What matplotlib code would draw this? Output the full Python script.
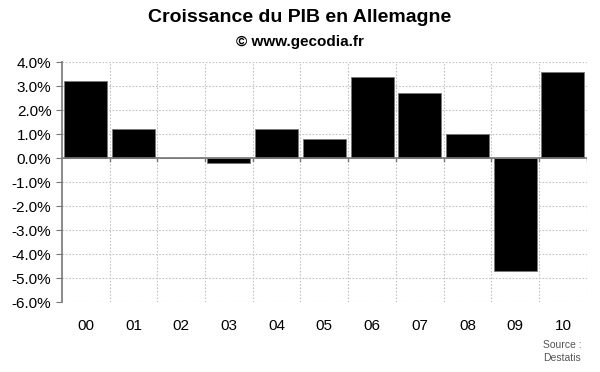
import matplotlib.pyplot as plt
import numpy as np
from matplotlib.ticker import FuncFormatter

plt.rcParams['font.family'] = ['Liberation Sans', 'DejaVu Sans']

years = ['00', '01', '02', '03', '04', '05', '06', '07', '08', '09', '10']
growth = [3.2, 1.2, 0.0, -0.2, 1.2, 0.8, 3.4, 2.7, 1.0, -4.7, 3.6]

fig = plt.figure(figsize=(6, 3.72), dpi=100)
ax = fig.add_axes([0.103, 0.188, 0.875, 0.645])

x = np.arange(len(years))
ax.bar(x, growth, width=0.9, color='black', edgecolor='#777777', linewidth=0.6, zorder=3)

ax.set_xlim(-0.5, len(years) - 0.5)
ax.set_ylim(-6, 4)
ax.set_yticks(np.arange(-6, 5, 1))
ax.yaxis.set_major_formatter(FuncFormatter(lambda v, p: f'{v:.1f}%'))

# dashed grid: horizontal at each percent, vertical at category boundaries
for yv in np.arange(-6, 5, 1):
    ax.axhline(yv, color='#c4c4c4', linestyle=(0, (1.5, 1.5)), linewidth=0.8, zorder=1)
for xv in np.arange(0.5, len(years) - 0.5 + 1, 1):
    ax.axvline(xv, color='#c4c4c4', linestyle=(0, (1.5, 1.5)), linewidth=0.8, zorder=1)

ax.axhline(0, color='#777777', linewidth=1.2, zorder=4)
for xv in np.arange(0.5, len(years), 1):
    ax.plot([xv, xv], [0, -0.12], color='#777777', linewidth=1, zorder=4)

for s in ['top', 'right', 'bottom']:
    ax.spines[s].set_visible(False)
ax.spines['left'].set_color('#777777')
ax.spines['left'].set_linewidth(1.2)
ax.tick_params(axis='y', length=4, color='#777777', labelsize=11)
ax.tick_params(axis='x', length=0, labelsize=11, pad=12)
ax.set_xticks(x)
ax.set_xticklabels(years)

fig.text(0.5, 0.952, 'Croissance du PIB en Allemagne', ha='center', va='center',
         fontsize=14, fontweight='bold')
fig.text(0.5, 0.887, '© www.gecodia.fr', ha='center', va='center',
         fontsize=11, fontweight='bold')
fig.text(0.905, 0.055, 'Source :\nDestatis', ha='left', va='center',
         fontsize=7.5, color='#555555', linespacing=1.3)

fig.savefig('out.png', dpi=100)
